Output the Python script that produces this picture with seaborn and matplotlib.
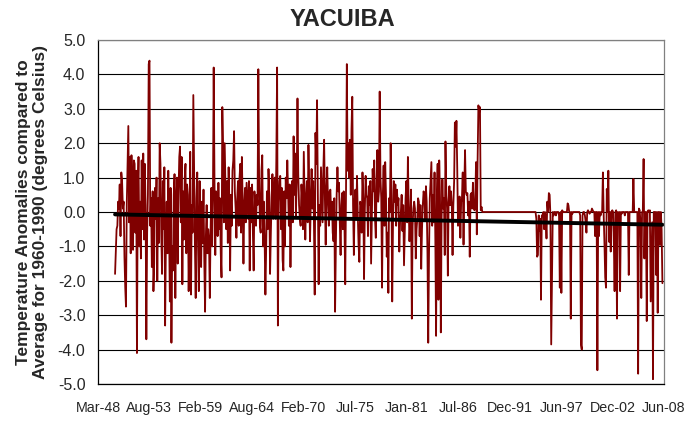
import pandas as pd
import numpy as np
import matplotlib
matplotlib.use("Agg")
import matplotlib.pyplot as plt
import seaborn as sns

# Monthly temperature anomalies (deg C), Jan 1950 onwards
anom_1950s = [
    -1.8, -1.1, -0.5, -0.4, 0.3, 0.1, 0.8, -0.7, 1.15, 0.9, 0.1, 0.3,
    -1.3, -2.2, -2.75, 0.2, 1.3, 2.5, -0.3, 1.6, -1.2, 1.65, 0.4, -1.1,
    1.5, 1.4, -0.6, 1.2, -4.1, 0.6, 1.6, -1.0, 0.3, -1.35, 1.5, -0.5,
    1.7, -0.8, 1.4, 0.2, -3.7, -0.6, 0.5, 4.3, 4.4, -0.4, 0.4, -1.6,
    0.6, -2.3, -1.5, 0.7, -0.2, 1.0, -2.0, 0.4, -0.9, 2.0, 1.4, -0.6,
    -1.8, 0.9, -0.5, 1.3, -3.3, -0.8, 0.3, -1.2, 1.2, -0.4, -2.6, 0.7,
    -3.8, -1.0, -1.7, 0.5, 1.1, -2.5, 0.3, 1.0, -1.5, 0.5, 1.6, 1.9,
    -0.3, 1.6, -2.1, 0.6, -0.8, 1.0, 1.4, -1.2, 0.8, 0.5, -2.3, -0.5,
    1.75, -2.4, 0.2, -0.6, 3.4, 1.2, -0.9, -2.5, 0.4, 1.15, -1.0, -2.3,
    0.9, -0.8, -1.6, 0.3, -0.9, 0.65, -1.4, -2.9, -0.7, 0.2, -1.2, -0.5,
]
anom_1960s = [
    -0.8, -2.5, -0.6, 0.7, -1.0, 0.4, 4.2, 0.9, -1.25, 0.6, 0.3, -0.7,
    0.85, -0.5, 0.4, -1.2, -1.9, 3.05, 1.9, -0.3, 2.0, 0.8, -0.5, 0.9,
    -0.9, 1.3, 0.3, -1.7, 0.5, -0.4, 1.2, 1.5, 2.35, 0.6, 0.1, -0.75,
    0.4, 0.9, -0.4, 1.0, 1.4, -0.6, 1.6, 0.3, -1.5, 0.2, 0.7, -0.3,
    0.85, 0.3, -0.2, 0.9, -1.7, 0.7, -0.3, 0.8, -0.6, -1.7, 0.6, 0.2,
    -0.4, 0.5, 0.2, 4.15, 1.0, -0.4, -0.6, 1.2, 1.65, -1.0, 0.3, -0.8,
    -2.4, -1.0, 0.6, -0.5, 1.25, 0.5, -1.8, -0.6, 0.4, 1.1, -0.2, 0.65,
    1.0, -0.2, 1.5, 4.2, -3.3, 0.3, 0.9, 1.05, -0.5, 0.7, -1.4, -1.7,
    0.6, -1.0, 1.0, 0.4, 1.5, 0.6, -0.4, 0.8, -1.6, 0.2, 0.9, -0.3,
    2.2, 0.5, 1.7, -0.1, 0.9, 3.3, 1.1, 0.2, -0.2, -0.4, 0.8, 0.4,
]
anom_1970s = [
    -0.5, 1.75, 0.6, -0.8, 0.4, 0.9, -0.3, 1.95, 0.7, -0.85, 0.3, 1.25,
    0.1, 0.9, -0.2, -2.4, 2.3, 1.4, 3.25, 0.6, -2.1, 0.2, -0.4, 1.3,
    0.5, -0.3, 1.2, 2.1, 0.4, -0.95, 0.7, 1.3, 0.2, -0.4, 0.6, 0.65,
    -0.2, 0.3, -0.6, -0.85, 0.4, -2.9, -1.0, 0.5, 1.3, 0.6, 0.85, -0.3,
    -1.25, 0.2, 0.55, -0.5, 0.6, -0.4, -2.1, 0.7, 4.3, 1.2, 2.0, 1.0,
    2.1, 0.5, 2.4, 3.35, 0.2, -1.25, 0.3, 0.65, -0.2, 1.05, -0.1, -0.95,
    -1.45, 0.3, 0.2, -0.6, 1.15, 0.4, -1.95, 0.1, 1.05, 0.5, 0.4, -0.7,
    0.75, 0.2, 0.9, -1.5, -0.2, 1.25, 0.6, 1.5, -0.2, -0.75, 0.9, 1.8,
    0.3, 0.6, 3.5, 1.0, 0.4, -2.2, 0.5, 1.35, -0.4, 1.45, 0.5, -1.3,
    -0.6, -2.35, 0.4, 0.0, 2.0, 0.6, -2.6, -0.3, 0.9, 0.3, 0.8, -0.4,
]
anom_1980s = [
    0.65, 0.2, 0.4, -1.15, -0.3, 0.0, 0.5, -0.55, 0.2, -1.55, -0.6, 0.4,
    0.9, -0.3, 1.6, 0.2, -0.85, -0.2, 0.65, -3.1, -0.4, 0.1, 0.3, 0.1,
    -1.35, -0.5, -0.2, 0.4, 0.3, -0.7, 0.2, -1.65, -0.5, 0.2, 0.6, 0.5,
    -0.2, 0.75, 0.3, -1.2, -3.8, -1.2, 0.4, 0.9, 1.45, -0.4, 0.5, -0.3,
    1.15, -0.8, -3.6, 0.5, 1.4, -2.55, 1.5, 0.4, -3.5, -0.2, 0.95, 0.1,
    0.4, -1.25, 2.05, 0.6, 0.1, -1.85, 0.3, 0.75, 0.2, 0.6, 0.2, -1.25,
    0.2, 0.9, 2.6, 1.9, 2.65, 1.3, -0.4, 0.2, 0.45, -0.75, 0.3, 0.4,
    1.15, -0.95, 0.7, 1.8, 0.6, 0.5, 0.55, -0.1, 0.3, -1.3, 0.5, 0.55,
    0.1, 0.85, 0.2, 0.05, 0.3, 1.45, -0.65, 1.5, 3.1, 2.9, 3.05, 0.05,
    0.15, 0.0, 0.0, 0.0, 0.0, 0.0, 0.0, 0.0, 0.0, 0.0, 0.0, 0.0,
]
anom_1990s = [
    0.0, 0.0, 0.0, 0.0, 0.0, 0.0, 0.0, 0.0, 0.0, 0.0, 0.0, 0.0,
    0.0, 0.0, 0.0, 0.0, 0.0, 0.0, 0.0, 0.0, 0.0, 0.0, 0.0, 0.0,
    0.0, 0.0, 0.0, 0.0, 0.0, 0.0, 0.0, 0.0, 0.0, 0.0, 0.0, 0.0,
    0.0, 0.0, 0.0, 0.0, 0.0, 0.0, 0.0, 0.0, 0.0, 0.0, 0.0, 0.0,
    0.0, 0.0, 0.0, 0.0, 0.0, 0.0, 0.0, 0.0, 0.0, 0.0, -0.2, -1.3,
    -1.25, -0.1, -0.55, -0.2, -2.55, -0.1, -0.1, 0.0, -0.5, 0.0, -0.2, -0.77,
    0.3, 0.0, 0.55, 0.5, -0.1, -3.85, -1.9, 0.0, -0.1, 0.0, 0.0, -0.1,
    0.0, 0.0, 0.0, -0.1, -2.2, 0.0, -2.35, 0.05, 0.0, 0.0, 0.0, 0.0,
    0.0, 0.0, 0.25, 0.2, 0.0, 0.0, -3.1, 0.0, -0.05, 0.0, 0.0, 0.0,
    0.0, 0.0, 0.0, 0.0, 0.0, 0.0, -0.1, -3.85, -4.0, -0.1, 0.0, 0.0,
]
anom_2000s = [
    -0.1, -0.3, -0.6, 0.0, 0.05, 0.0, -0.05, 0.0, 0.0, 0.1, 0.05, 0.0,
    0.0, -0.7, 0.0, 0.0, -4.6, 0.0, -0.7, 0.0, -0.1, 0.0, 0.0, 1.15,
    -0.1, -0.96, -1.9, -2.2, 0.67, 0.0, 1.2, -0.87, 0.0, -1.15, 0.0, 0.05,
    0.0, -0.96, -2.3, 0.0, 0.05, -3.1, 0.0, -0.1, 0.0, -2.3, 0.0, -0.05,
    0.0, 0.0, 0.0, -0.1, 0.0, 0.0, 0.0, 0.0, -1.83, 0.0, 0.0, 0.0,
    0.0, 0.0, 0.96, 0.0, 0.0, 0.0, 0.0, 0.0, -4.7, 0.1, 0.05, -0.3,
    -2.5, 0.0, 0.0, 1.54, -1.35, 0.0, 0.0, -3.17, 0.0, 0.05, 0.0, 0.05,
    -2.6, -1.44, -0.3, -4.86, 0.0, 0.0, 0.0, -1.83, 0.0, -2.93, 0.0, 0.0,
    -0.96, 0.0, -0.5, -2.07,
]

# linear trend line end values as drawn on the chart
trend_start, trend_end = -0.07, -0.37

tick_labels = ['Mar-48', 'Aug-53', 'Feb-59', 'Aug-64', 'Feb-70', 'Jul-75',
               'Jan-81', 'Jul-86', 'Dec-91', 'Jun-97', 'Dec-02', 'Jun-08']

values = anom_1950s + anom_1960s + anom_1970s + anom_1980s + anom_1990s + anom_2000s
dates = pd.date_range('1950-01-01', periods=len(values), freq='MS')
df = pd.DataFrame({'date': dates, 'anomaly': values})
trend = pd.DataFrame({'date': [dates[0], dates[-1]], 'anomaly': [trend_start, trend_end]})

sns.set_style("white")
plt.rcParams['font.family'] = ['Liberation Sans', 'DejaVu Sans']

fig = plt.figure(figsize=(6.85, 4.21), dpi=100)
ax = fig.add_axes([98 / 685, 1 - 384 / 421, 566 / 685, 344 / 421])

sns.lineplot(data=df, x='date', y='anomaly', ax=ax, color='#800000',
             linewidth=1.3, estimator=None, sort=False)
sns.lineplot(data=trend, x='date', y='anomaly', ax=ax, color='black',
             linewidth=2.8, estimator=None, sort=False)

# Excel-style date axis: a major unit of 2000 days
axis_start = pd.Timestamp('1948-03-09')
ticks = [axis_start + pd.Timedelta(days=2000 * k) for k in range(len(tick_labels))]
ax.set_xlim(ticks[0], ticks[-1])
ax.set_xticks(ticks)
ax.set_xticklabels(tick_labels)

ax.set_ylim(-5, 5)
ax.set_yticks(np.arange(-5, 5.5, 1.0))
ax.set_yticklabels([f'{v:.1f}' for v in np.arange(-5, 5.5, 1.0)])
ax.yaxis.grid(True, color='black', linewidth=0.8)
ax.set_axisbelow(True)

ax.tick_params(axis='both', direction='out', length=4, width=0.8, color='black')
ax.tick_params(axis='x', pad=8, labelsize=10.3)
ax.tick_params(axis='y', pad=5, labelsize=11.5)
for side in ['left', 'bottom']:
    ax.spines[side].set_color('black')
    ax.spines[side].set_linewidth(0.9)
for side in ['top', 'right']:
    ax.spines[side].set_color('#808080')
    ax.spines[side].set_linewidth(0.9)

ax.set_xlabel('')
ax.set_ylabel('Temperature Anomalies compared to\nAverage for 1960-1990 (degrees Celsius)',
              fontsize=12.5, fontweight='bold', linespacing=1.2)
ax.yaxis.set_label_coords(-0.088, 0.5)

fig.text(0.5, 1 - 20 / 421, 'YACUIBA', ha='center', va='center',
         fontsize=17, fontweight='bold')

fig.savefig('out.png', dpi=100)
